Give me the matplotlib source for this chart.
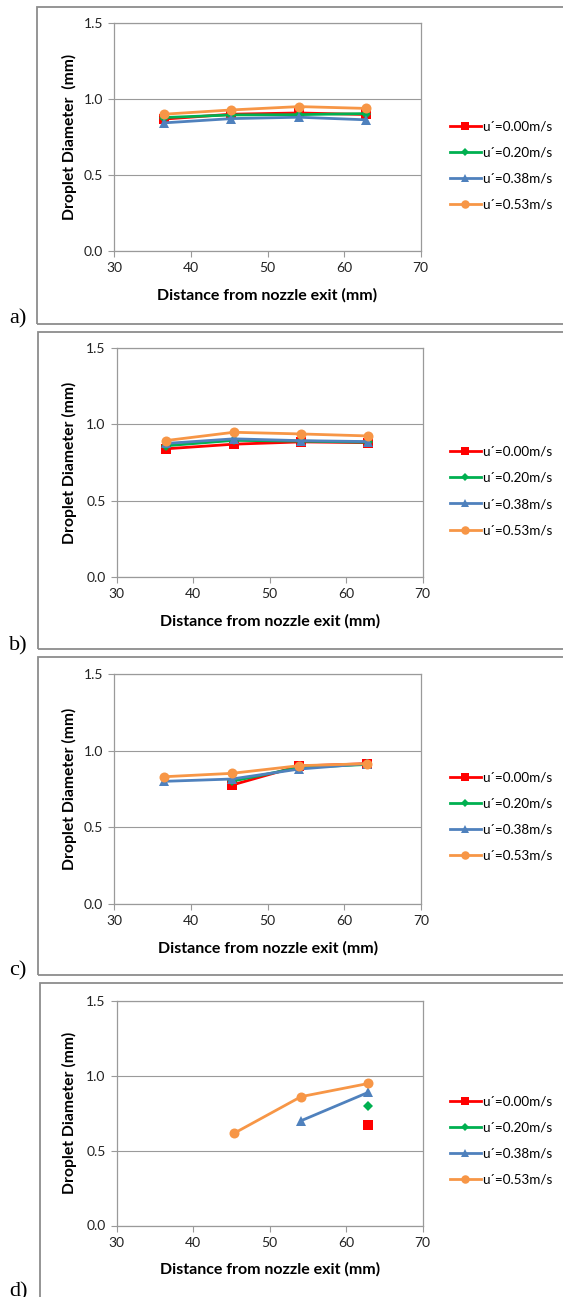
import numpy as np
import matplotlib.pyplot as plt
from matplotlib.patches import Rectangle

W, H = 563, 1297
nan = np.nan

distance = [36.5, 45.3, 54.1, 62.9]
labels = ["u\u00b4=0.00m/s", "u\u00b4=0.20m/s", "u\u00b4=0.38m/s", "u\u00b4=0.53m/s"]

# a)
a_000 = [0.87, 0.902, 0.91, 0.90]
a_020 = [0.88, 0.897, 0.899, 0.906]
a_038 = [0.845, 0.873, 0.882, 0.865]
a_053 = [0.902, 0.930, 0.952, 0.940]
# b)
b_000 = [0.84, 0.87, 0.885, 0.88]
b_020 = [0.86, 0.895, 0.89, 0.883]
b_038 = [0.875, 0.905, 0.893, 0.887]
b_053 = [0.894, 0.948, 0.937, 0.924]
# c)
c_000 = [nan, 0.775, 0.90, 0.915]
c_020 = [nan, 0.80, 0.89, 0.91]
c_038 = [0.80, 0.815, 0.88, 0.915]
c_053 = [0.83, 0.852, 0.902, 0.915]
# d)
d_000 = [nan, nan, nan, 0.67]
d_020 = [nan, nan, nan, 0.80]
d_038 = [nan, nan, 0.70, 0.89]
d_053 = [nan, 0.615, 0.861, 0.949]

x_ticks = [30, 40, 50, 60, 70]
y_ticks = [0.0, 0.5, 1.0, 1.5]

colors = ['#FF0000', '#00B050', '#4F81BD', '#F79646']
markers = ['s', 'D', '^', 'o']
msizes = [7.5, 4.6, 7.5, 7.2]

panels = [
    # series, tag, ylabel, plot px rect, box px rect, legend center y, tag baseline
    ([a_000, a_020, a_038, a_053], 'a)', 'Droplet Diameter  (mm)',
     (114.3, 23.3, 420.7, 251.3), (37, 7, 620, 324), 165.5, 323),
    ([b_000, b_020, b_038, b_053], 'b)', 'Droplet Diameter (mm)',
     (116.7, 348, 422.7, 577), (38, 332, 620, 649), 491, 650),
    ([c_000, c_020, c_038, c_053], 'c)', 'Droplet Diameter (mm)',
     (114.3, 674, 421, 904), (38, 657, 620, 975), 816.5, 975),
    ([d_000, d_020, d_038, d_053], 'd)', 'Droplet Diameter (mm)',
     (116.7, 1001, 422.7, 1225.5), (40, 983, 620, 1330), 1140.5, 1296),
]

plt.rcParams['font.family'] = ['Lato', 'DejaVu Sans']

fig = plt.figure(figsize=(W / 100, H / 100), dpi=100)


def fig_rect(x0, y0, x1, y1):
    return [x0 / W, 1 - y1 / H, (x1 - x0) / W, (y1 - y0) / H]


grey = '#9A9A9A'
for series, tag, ylab, prect, brect, leg_y, tag_y in panels:
    bx = fig_rect(*brect)
    fig.patches.append(Rectangle((bx[0], bx[1]), bx[2], bx[3], transform=fig.transFigure,
                                 fill=False, edgecolor='#8C8C8C', linewidth=1.3))
    fig.text(9 / W, 1 - tag_y / H, tag, family='Liberation Serif', fontsize=16,
             va='baseline', ha='left')

    ax = fig.add_axes(fig_rect(*prect))
    for vals, c, m, ms, lab in zip(series, colors, markers, msizes, labels):
        ax.plot(distance, vals, color=c, marker=m, markersize=ms, linewidth=2.0,
                markeredgewidth=0, label=lab, clip_on=False)
    ax.set_xlim(30, 70)
    ax.set_ylim(0, 1.5)
    ax.set_xticks(x_ticks)
    ax.set_yticks(y_ticks)
    ax.set_yticklabels([f'{v:.1f}' for v in y_ticks])
    ax.grid(axis='y', color=grey, linewidth=0.8)
    ax.set_axisbelow(True)
    for s in ax.spines.values():
        s.set_color(grey)
        s.set_linewidth(0.9)
    ax.tick_params(length=4, color=grey, labelsize=10, labelcolor='#222222', width=0.8)
    ax.tick_params(axis='x', pad=4)
    ax.tick_params(axis='y', pad=4)

    ax.set_xlabel('Distance from nozzle exit (mm)', fontsize=11.5, fontweight='bold')
    ax.xaxis.label.set_va('center')
    ax.xaxis.set_label_coords(0.5, -44 / (prect[3] - prect[1]))
    ax.set_ylabel(ylab, fontsize=11.3, fontweight='bold')
    ax.yaxis.label.set_va('center')
    ax.yaxis.set_label_coords((69 - prect[0]) / (prect[2] - prect[0]), 0.5)

    ax.legend(loc='center left', bbox_to_anchor=(450 / W, 1 - leg_y / H),
              bbox_transform=fig.transFigure, frameon=False, fontsize=9.7,
              handlelength=2.3, handletextpad=0.1, labelspacing=1.05,
              borderpad=0, borderaxespad=0, markerscale=0.85)

fig.savefig('out.png', dpi=100)
